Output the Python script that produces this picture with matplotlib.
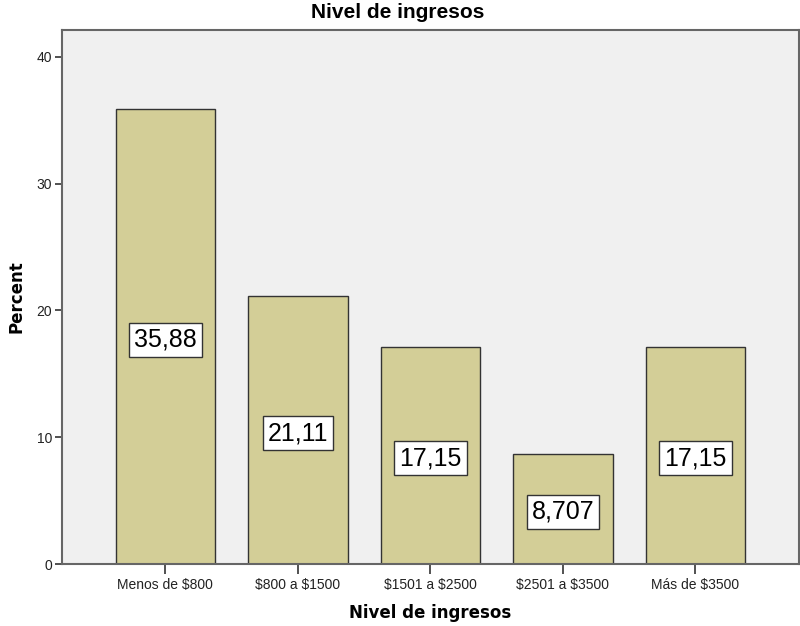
import matplotlib
matplotlib.use("Agg")
import matplotlib.pyplot as plt

categories = ["Menos de $800", "$800 a $1500", "$1501 a $2500", "$2501 a $3500", "Más de $3500"]
values = [35.88, 21.11, 17.15, 8.707, 17.15]
value_labels = ["35,88", "21,11", "17,15", "8,707", "17,15"]
yticks = [0, 10, 20, 30, 40]

plt.rcParams['font.family'] = ['Liberation Sans', 'DejaVu Sans']
plt.rcParams['text.parse_math'] = False

fig = plt.figure(figsize=(8, 6.26), dpi=100)
ax = fig.add_axes([0.0775, 0.099, 0.921, 0.853])
ax.set_facecolor('#F0F0F0')

x = list(range(len(categories)))
ax.bar(x, values, width=0.75, color='#D3CE97', edgecolor='#333333', linewidth=1.0, zorder=2)

for xi, v, lab in zip(x, values, value_labels):
    ax.text(xi, v / 2 - 0.25, lab, ha='center', va='center', fontsize=18, zorder=3,
            bbox=dict(boxstyle='square,pad=0.2', facecolor='white', edgecolor='#333333', linewidth=1.0))

ax.set_xlim(-0.78, 4.78)
ax.set_ylim(0, 42.1)
ax.set_yticks(yticks)
ax.set_yticklabels([str(t) for t in yticks], fontsize=10)
ax.set_xticks(x)
ax.set_xticklabels(categories, fontsize=10)
ax.tick_params(axis='y', length=5, width=1.2, color='#333333', pad=2, labelcolor='#222222')
ax.tick_params(axis='x', length=7, width=1.2, color='#333333', pad=3, labelcolor='#222222')

for s in ax.spines.values():
    s.set_color('#666666')
    s.set_linewidth(1.5)

fig.text(0.497, 1 - 13 / 626, "Nivel de ingresos", fontsize=15, fontweight='bold',
         ha='center', va='center')
ax.set_xlabel("Nivel de ingresos", fontsize=12, fontweight='bold', labelpad=9,
              family=['DejaVu Sans'])
ax.set_ylabel("Percent", fontsize=12, fontweight='bold', labelpad=8,
              family=['DejaVu Sans'])

fig.savefig("out.png", dpi=100)
